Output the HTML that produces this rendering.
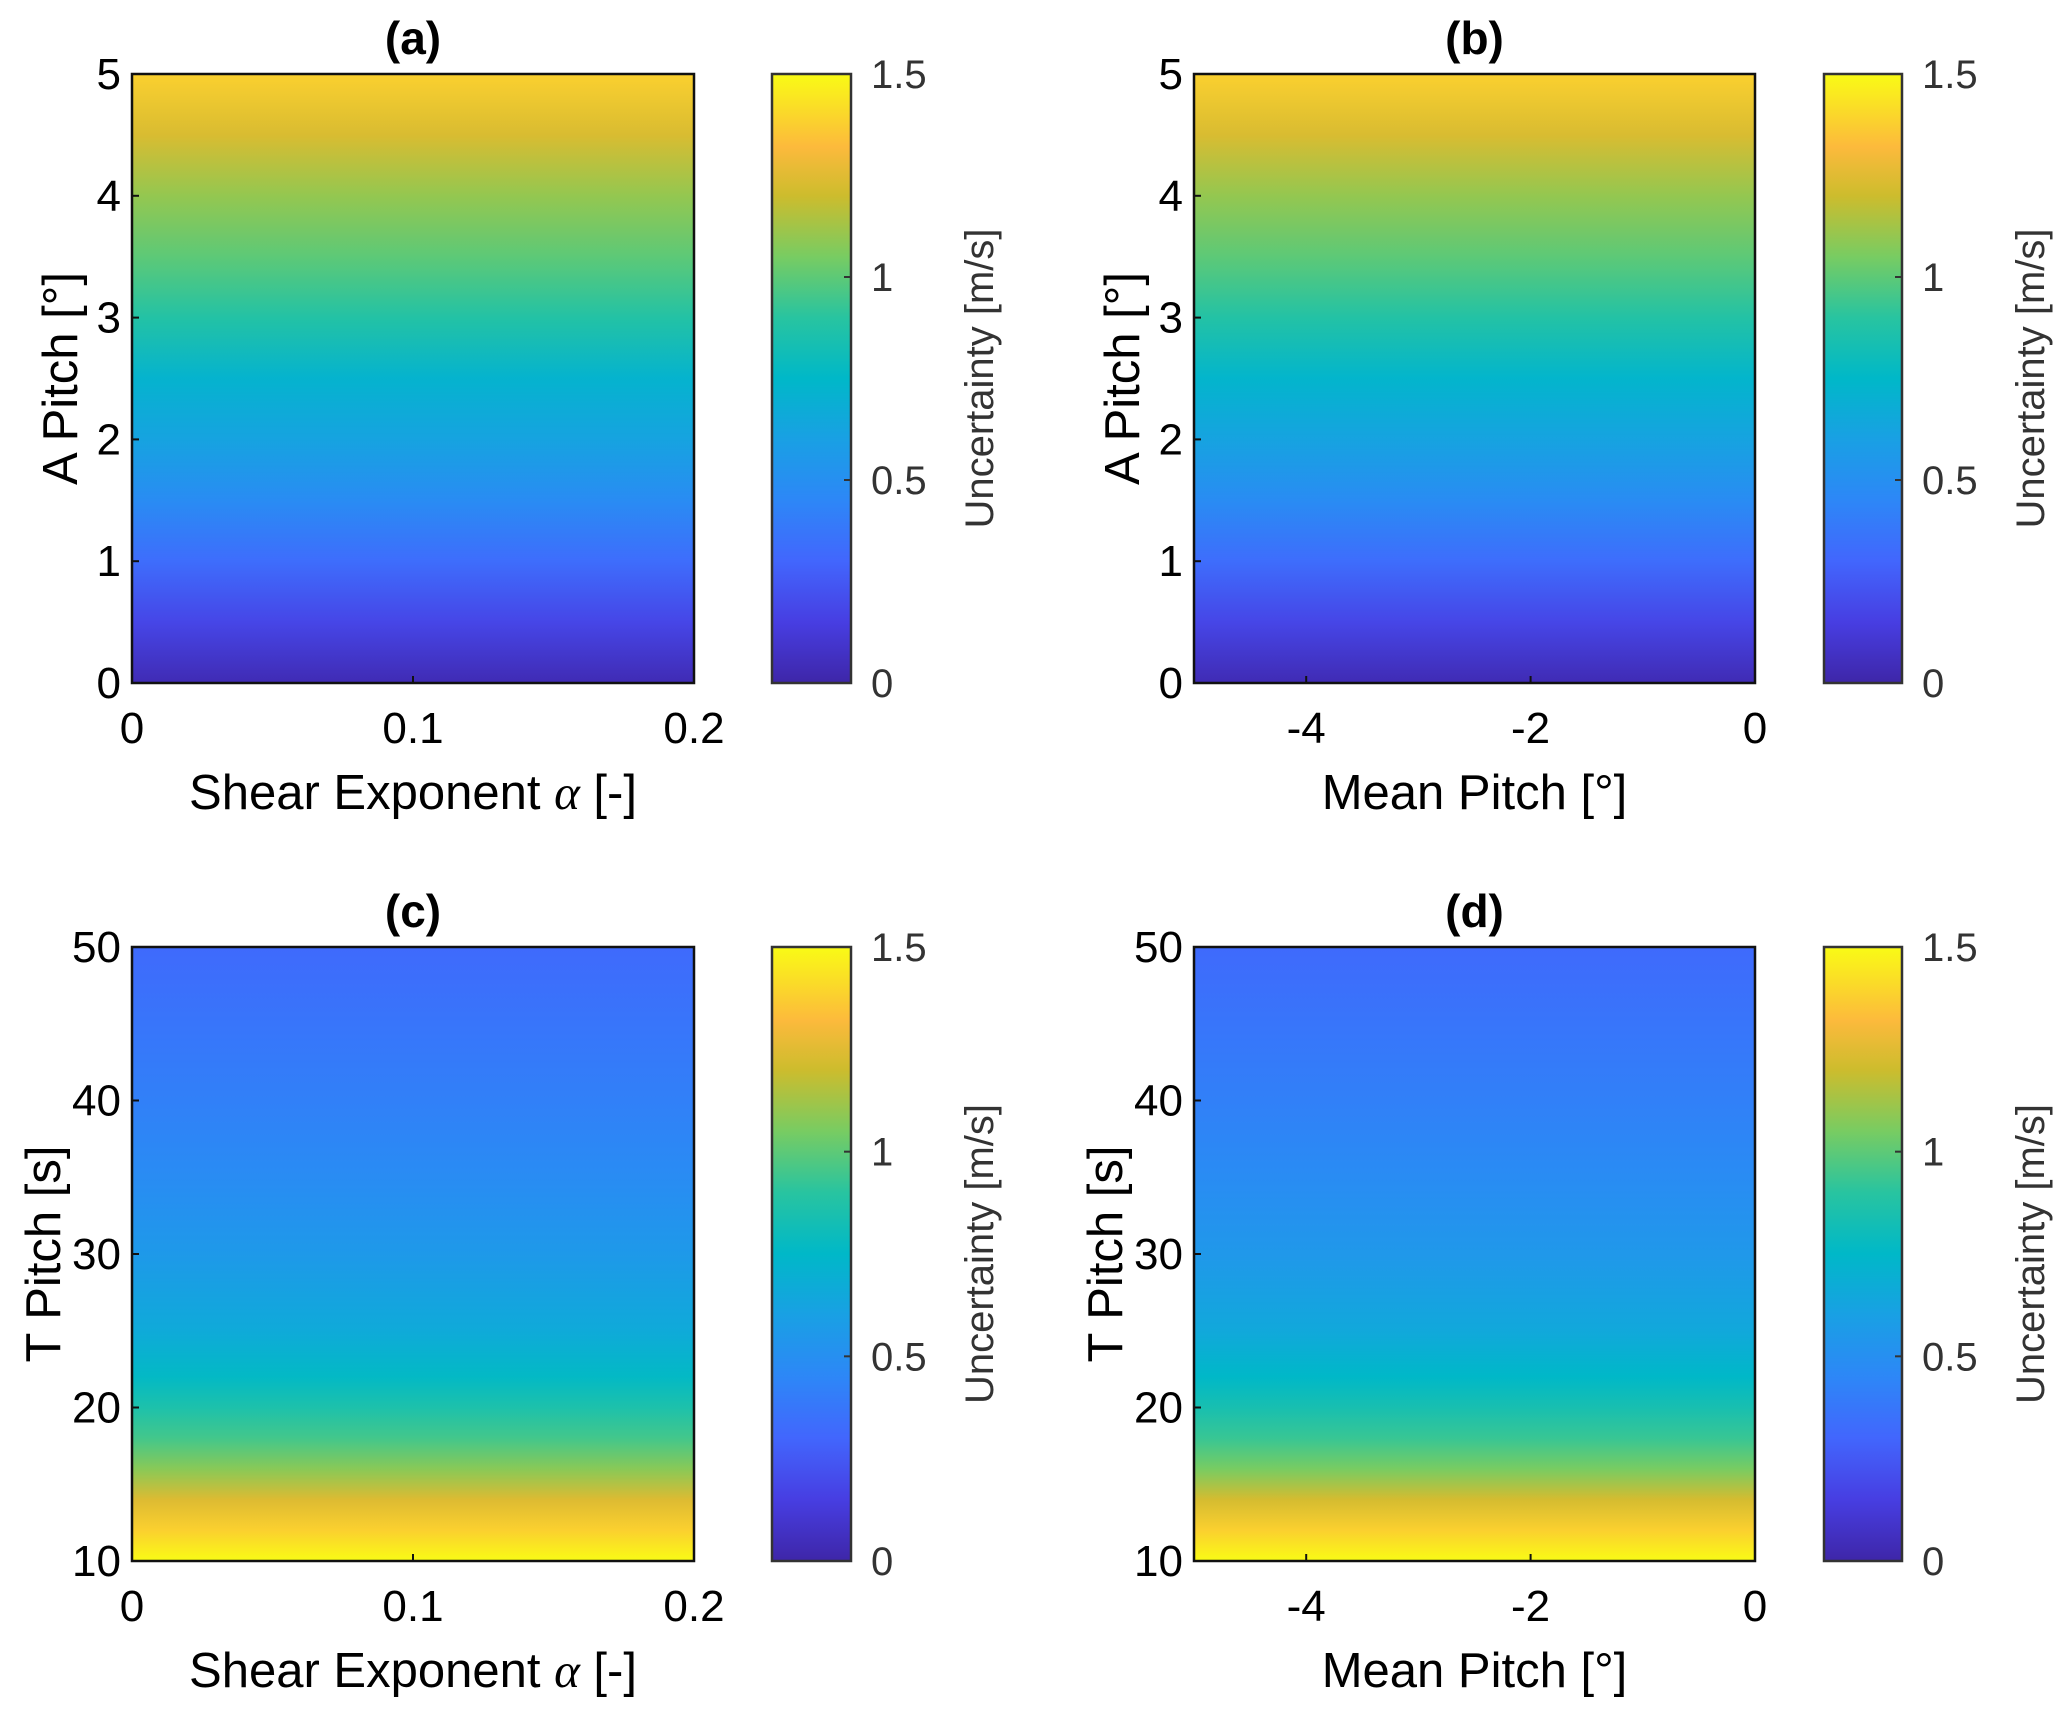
<!DOCTYPE html>
<html><head><meta charset="utf-8"><style>
html,body{margin:0;padding:0;background:#fff;}
svg{display:block;font-family:"Liberation Sans",Arial,sans-serif;}
</style></head><body>
<svg id="fig" width="2067" height="1711" viewBox="0 0 2067 1711" xmlns="http://www.w3.org/2000/svg">
<defs id="defs"></defs>
</svg>
<script>
// ---- data ----
const aPitch = [0, 0.5, 1, 1.5, 2, 2.5, 3, 3.5, 4, 4.5, 5];
const uncA = [0.03, 0.18, 0.33, 0.48, 0.62, 0.72, 0.88, 1.0, 1.1, 1.23, 1.38];
const uncB = [0.03, 0.18, 0.33, 0.48, 0.62, 0.73, 0.88, 1.0, 1.1, 1.23, 1.38];
const tPitch = [10, 12, 14, 16, 18, 20, 22, 25, 30, 35, 40, 45, 50];
const uncC = [1.5, 1.38, 1.24, 1.08, 0.95, 0.86, 0.76, 0.66, 0.56, 0.48, 0.42, 0.37, 0.32];
const uncD = [1.5, 1.38, 1.22, 1.05, 0.93, 0.84, 0.75, 0.65, 0.55, 0.48, 0.42, 0.37, 0.32];
const xTicksShear = [0, 0.1, 0.2];
const xTicksMean = [-4, -2, 0];
const yTicksA = [0, 1, 2, 3, 4, 5];
const yTicksT = [10, 20, 30, 40, 50];
const cbTicks = [0, 0.5, 1, 1.5];

const parula = [[0,[62,38,168]],[0.1,[71,62,226]],[0.2,[66,102,253]],[0.3,[45,135,247]],[0.4,[25,160,228]],[0.5,[0,184,200]],[0.6,[40,196,160]],[0.7,[120,204,98]],[0.8,[205,188,45]],[0.88,[252,186,60]],[1,[249,251,21]]];
function cmap(v){
  let t=Math.max(0,Math.min(1,v/1.5));
  for(let i=1;i<parula.length;i++){
    if(t<=parula[i][0]){
      const a=parula[i-1],b=parula[i];const f=(t-a[0])/(b[0]-a[0]);
      const c=a[1].map((x,k)=>Math.round(x+(b[1][k]-x)*f));
      return `rgb(${c[0]},${c[1]},${c[2]})`;
    }
  }
  return 'rgb(249,251,21)';
}
const NS='http://www.w3.org/2000/svg';
const svg=document.getElementById('fig');
const defs=document.getElementById('defs');
function mk(tag,attrs,parent){const e=document.createElementNS(NS,tag);for(const k in attrs)e.setAttribute(k,attrs[k]);(parent||svg).appendChild(e);return e;}
function txt(s,attrs,parent){const e=mk('text',attrs,parent);e.textContent=s;return e;}

const panels=[
 {id:'a',title:'(a)',x0:132,x1:694,y0:74,y1:683,xd:[0,0.2],xt:xTicksShear,xl:'shear',yd:[0,5],yt:yTicksA,ys:aPitch,zs:uncA,ylab:'A Pitch [°]',yoff:55,cb:[772,851]},
 {id:'b',title:'(b)',x0:1194,x1:1755,y0:74,y1:683,xd:[-5,0],xt:xTicksMean,xl:'mean',yd:[0,5],yt:yTicksA,ys:aPitch,zs:uncB,ylab:'A Pitch [°]',yoff:55,cb:[1824,1902]},
 {id:'c',title:'(c)',x0:132,x1:694,y0:947,y1:1561,xd:[0,0.2],xt:xTicksShear,xl:'shear',yd:[10,50],yt:yTicksT,ys:tPitch,zs:uncC,ylab:'T Pitch [s]',yoff:72,cb:[772,851]},
 {id:'d',title:'(d)',x0:1194,x1:1755,y0:947,y1:1561,xd:[-5,0],xt:xTicksMean,xl:'mean',yd:[10,50],yt:yTicksT,ys:tPitch,zs:uncD,ylab:'T Pitch [s]',yoff:72,cb:[1824,1902]},
];

const cg=mk('linearGradient',{id:'cbg',x1:0,y1:1,x2:0,y2:0},defs);
parula.forEach(p=>mk('stop',{offset:p[0],'stop-color':`rgb(${p[1].join(',')})`},cg));

panels.forEach(p=>{
  const g=mk('g',{});
  
  
  const sx=v=>p.x0+(v-p.xd[0])/(p.xd[1]-p.xd[0])*(p.x1-p.x0);
  const sy=v=>p.y1-(v-p.yd[0])/(p.yd[1]-p.yd[0])*(p.y1-p.y0);
  const gr=mk('linearGradient',{id:'hg'+p.id,gradientUnits:'userSpaceOnUse',x1:0,y1:p.y1,x2:0,y2:p.y0},defs);
  p.ys.forEach((yv,i)=>{
    mk('stop',{offset:((p.y1-sy(yv))/(p.y1-p.y0)).toFixed(4),'stop-color':cmap(p.zs[i])},gr);
  });
  const hm=mk('rect',{x:p.x0,y:p.y0,width:p.x1-p.x0,height:p.y1-p.y0,fill:`url(#hg${p.id})`},g);
  
  
  const fr=mk('rect',{x:p.x0,y:p.y0,width:p.x1-p.x0,height:p.y1-p.y0,fill:'none',stroke:'#111','stroke-width':2.5},g);
  
  
  const t=txt(p.title,{x:(p.x0+p.x1)/2,y:p.y0-20,'text-anchor':'middle','font-size':46,'font-weight':'bold',fill:'#000'},g);
  
  
  p.xt.forEach(v=>{
    mk('line',{x1:sx(v),x2:sx(v),y1:p.y1,y2:p.y1-7,stroke:'#111','stroke-width':2},g);
    const l=txt(String(v),{x:sx(v),y:p.y1+60,'text-anchor':'middle','font-size':44,fill:'#000'},g);
    
    
  });
  p.yt.forEach(v=>{
    mk('line',{x1:p.x0,x2:p.x0+7,y1:sy(v),y2:sy(v),stroke:'#111','stroke-width':2},g);
    const l=txt(String(v),{x:p.x0-11,y:sy(v)+15,'text-anchor':'end','font-size':44,fill:'#000'},g);
    
    
  });
  const xlab=mk('text',{x:(p.x0+p.x1)/2,y:p.y1+126,'text-anchor':'middle','font-size':49,fill:'#000'},g);
  
  
  if(p.xl==='shear'){
    xlab.innerHTML='Shear Exponent <tspan font-family="Liberation Serif, serif" font-style="italic">α</tspan> [-]';
  } else xlab.textContent='Mean Pitch [°]';
  const yx=p.x0-p.yoff, yc=(p.y0+p.y1)/2;
  const ylab=txt(p.ylab,{x:yx,y:yc,'text-anchor':'middle','font-size':49,fill:'#000',transform:`rotate(-90 ${yx} ${yc})`},g);
  
  
  const cb=mk('rect',{x:p.cb[0],y:p.y0,width:p.cb[1]-p.cb[0],height:p.y1-p.y0,fill:'url(#cbg)',stroke:'#333','stroke-width':2.5},g);
  
  
  const cy=v=>p.y1-v/1.5*(p.y1-p.y0);
  cbTicks.forEach(v=>{
    mk('line',{x1:p.cb[1],x2:p.cb[1]-7,y1:cy(v),y2:cy(v),stroke:'#333','stroke-width':2},g);
    const l=txt(String(v),{x:p.cb[1]+20,y:cy(v)+14,'font-size':40,fill:'#333'},g);
    
    
  });
  const cx=p.cb[1]+142;
  const cl=txt('Uncertainty [m/s]',{x:cx,y:yc,'text-anchor':'middle','font-size':40,fill:'#333',transform:`rotate(-90 ${cx} ${yc})`},g);
  
  
});
</script>
</body></html>
